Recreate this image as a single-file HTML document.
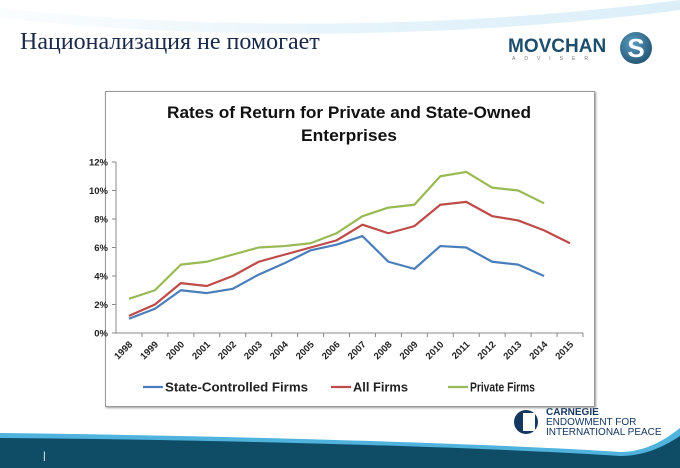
<!DOCTYPE html>
<html><head><meta charset="utf-8"><style>
body{margin:0;width:680px;height:468px;overflow:hidden;background:#fff;font-family:"Liberation Sans",sans-serif;position:relative}
</style></head><body>
<svg width="680" height="468" style="position:absolute;left:0;top:0">
<defs><linearGradient id="sw" x1="0" x2="1"><stop offset="0" stop-color="#dbeef8" stop-opacity="0.2"/><stop offset="0.5" stop-color="#d6ecf8"/><stop offset="1" stop-color="#c4e3f4"/></linearGradient></defs>
<path d="M0,8 C200,30 450,30 680,0 L680,10 C450,40 200,40 0,18Z" fill="url(#sw)" opacity="0.6"/>
<path d="M0,433 C250,436 500,444 620,452 C645,452 665,440 680,428 L680,468 L0,468Z" fill="#4fb3dd"/>
<path d="M0,438 C250,440 500,448 620,456 C645,456 665,446 680,436 L680,468 L0,468Z" fill="#0f4c66"/>
</svg>
<div style="position:absolute;left:20px;top:29px;font-family:'Liberation Serif',serif;font-size:24px;color:#1a2a4a;white-space:nowrap">Национализация не помогает</div>
<div style="position:absolute;left:508px;top:36px;width:150px;height:30px">
<div style="position:absolute;left:0;top:0;font-size:19px;font-weight:bold;color:#1d4e6e">MOVCHAN</div>
<div style="position:absolute;left:4px;top:20px;font-size:5px;letter-spacing:9px;color:#777">ADVISER</div>
<div style="position:absolute;left:112px;top:-4px;width:32px;height:32px;border-radius:50%;background:radial-gradient(circle at 40% 35%,#5a9cc0,#14405c);color:#fff;font-weight:bold;font-size:26px;text-align:center;line-height:32px">S</div>
</div>
<div style="position:absolute;left:514px;top:408px;width:165px;height:30px">
<div style="position:absolute;left:0;top:2px;width:24px;height:24px;border-radius:50%;background:#143760;overflow:hidden"><div style="position:absolute;left:9px;top:3px;width:12px;height:18px;background:#fff"></div></div>
<div style="position:absolute;left:32px;top:0;font-size:10px;line-height:10px;color:#143760;white-space:nowrap"><b>CARNEGIE</b><br>ENDOWMENT FOR<br>INTERNATIONAL PEACE</div>
</div>
<div style="position:absolute;left:43px;top:451px;color:#fff;font-size:10px">|</div>
<div style="position:absolute;left:105px;top:91px;width:488px;height:314px;border:1px solid #999;box-shadow:1px 1px 2px #999;background:#fff"></div>
<svg id="chart" width="680" height="468" style="position:absolute;left:0;top:0">
<text x="349" y="118" text-anchor="middle" font-size="17" font-weight="bold" fill="#111" textLength="364" lengthAdjust="spacingAndGlyphs">Rates of Return for Private and State-Owned</text>
<text x="349" y="141" text-anchor="middle" font-size="17" font-weight="bold" fill="#111" textLength="96" lengthAdjust="spacingAndGlyphs">Enterprises</text>
</svg>
<script>
const years=["1998","1999","2000","2001","2002","2003","2004","2005","2006","2007","2008","2009","2010","2011","2012","2013","2014","2015"];
const stateVals=[1.0,1.7,3.0,2.8,3.1,4.1,4.9,5.8,6.2,6.8,5.0,4.5,6.1,6.0,5.0,4.8,4.0];
const allVals=[1.2,2.0,3.5,3.3,4.0,5.0,5.5,6.0,6.5,7.6,7.0,7.5,9.0,9.2,8.2,7.9,7.2,6.3];
const privateVals=[2.4,3.0,4.8,5.0,5.5,6.0,6.1,6.3,7.0,8.2,8.8,9.0,11.0,11.3,10.2,10.0,9.1];
const yTicks=[0,2,4,6,8,10,12];
const seriesNames=["State-Controlled Firms","All Firms","Private Firms"];
const colors=["#4a7ebb","#be4b48","#98b954"];
const NS="http://www.w3.org/2000/svg",svg=document.getElementById('chart');
const X0=116,X1=583,Y0=333,Y1=162;
const step=(X1-X0)/years.length;
const xs=i=>X0+step*(i+0.5);
const ys=v=>Y0-(v/12)*(Y0-Y1);
function mk(t,a,p){const e=document.createElementNS(NS,t);for(const k in a)e.setAttribute(k,a[k]);(p||svg).appendChild(e);return e;}
const ax=mk('line',{x1:X0,y1:Y0,x2:X1,y2:Y0,stroke:'#888'});


const ay=mk('line',{x1:X0,y1:Y0,x2:X0,y2:Y1,stroke:'#888'});


yTicks.forEach(v=>{
 mk('line',{x1:X0-4,x2:X0,y1:ys(v),y2:ys(v),stroke:'#888'});
 const t=mk('text',{x:X0-8,y:ys(v)+3.5,'text-anchor':'end','font-size':'9.5','font-weight':'bold',fill:'#222'});
 t.textContent=v+'%';
 
 
});
years.forEach((y,i)=>{
 const tx=X0+step*(i+1);
 mk('line',{x1:tx,x2:tx,y1:Y0,y2:Y0+4,stroke:'#888'});
 const x=xs(i)+4,yy=Y0+12;
 const t=mk('text',{x:x,y:yy,'text-anchor':'end','font-size':'9.5','font-weight':'bold',fill:'#222',transform:`rotate(-45 ${x} ${yy})`});
 t.textContent=y;
 
 
});
[stateVals,allVals,privateVals].forEach((vals,s)=>{
 const p=mk('polyline',{points:vals.map((v,i)=>xs(i)+','+ys(v)).join(' '),fill:'none',stroke:colors[s],'stroke-width':'2.2','stroke-linejoin':'round'});
 
 
});
const legX=[165,353,470];
const legW=[143,55,65];
seriesNames.forEach((n,s)=>{
 const g=mk('g',{});
 
 
 mk('line',{x1:legX[s]-22,x2:legX[s]-2,y1:387,y2:387,stroke:colors[s],'stroke-width':'2.2'},g);
 const t=mk('text',{x:legX[s],y:391.5,'font-size':'13','font-weight':'bold',fill:'#222',textLength:legW[s],lengthAdjust:'spacingAndGlyphs'},g);
 t.textContent=n;
});
</script>
</body></html>
